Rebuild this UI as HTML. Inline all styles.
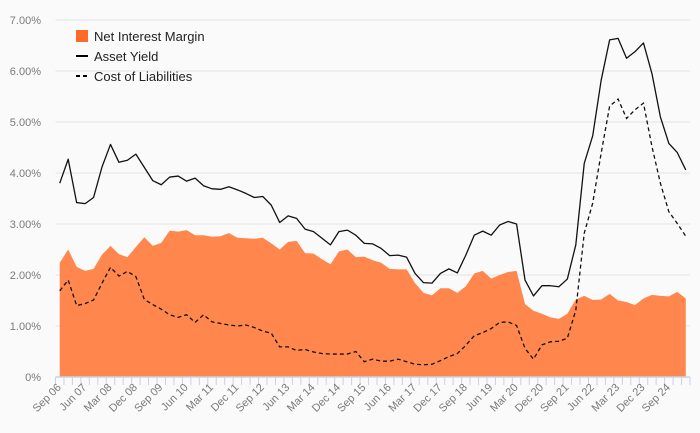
<!DOCTYPE html>
<html><head><meta charset="utf-8">
<style>
html,body{margin:0;padding:0;background:#fafafa;}
svg{display:block;font-family:"Liberation Sans",sans-serif;}
</style></head>
<body>
<svg id="chart" width="700" height="433" viewBox="0 0 700 433" xmlns="http://www.w3.org/2000/svg">
<rect x="0" y="0" width="700" height="433" fill="#fafafa"/>
<g id="grid"></g>
<g id="yaxis"></g>
<g id="series"></g>
<g id="xaxis"></g>
<g font-size="13" fill="#222">
  <g>
    <rect x="76" y="30" width="12" height="12" fill="#ff6a28"/>
    <text x="94" y="41">Net Interest Margin</text>
  </g>
  <g>
    <line x1="76" y1="56" x2="88" y2="56" stroke="#000" stroke-width="2"/>
    <text x="94" y="61">Asset Yield</text>
  </g>
  <g>
    <line x1="76" y1="76" x2="88" y2="76" stroke="#000" stroke-width="2" stroke-dasharray="4,3"/>
    <text x="94" y="81">Cost of Liabilities</text>
  </g>
</g>
</svg>
<script>
const quarterStart = "Sep 06";
const quarterLabels = ["Sep 06","Jun 07","Mar 08","Dec 08","Sep 09","Jun 10","Mar 11","Dec 11","Sep 12","Jun 13","Mar 14","Dec 14","Sep 15","Jun 16","Mar 17","Dec 17","Sep 18","Jun 19","Mar 20","Dec 20","Sep 21","Jun 22","Mar 23","Dec 23","Sep 24"];
const yTicks = [0,1,2,3,4,5,6,7];
const yTickLabels = ["0%","1.00%","2.00%","3.00%","4.00%","5.00%","6.00%","7.00%"];
const netInterestMargin = [2.24,2.50,2.16,2.08,2.12,2.40,2.57,2.41,2.35,2.55,2.74,2.57,2.63,2.87,2.85,2.88,2.78,2.78,2.75,2.76,2.82,2.73,2.72,2.71,2.73,2.62,2.50,2.65,2.67,2.43,2.42,2.31,2.21,2.46,2.50,2.35,2.36,2.29,2.24,2.12,2.11,2.11,1.84,1.65,1.60,1.74,1.74,1.65,1.78,2.03,2.08,1.93,2.00,2.06,2.08,1.43,1.30,1.24,1.17,1.14,1.24,1.52,1.59,1.51,1.52,1.63,1.50,1.47,1.41,1.54,1.61,1.59,1.58,1.67,1.54];
const assetYield = [3.80,4.27,3.42,3.40,3.52,4.12,4.56,4.21,4.25,4.37,4.11,3.85,3.77,3.92,3.94,3.84,3.90,3.75,3.69,3.68,3.73,3.67,3.60,3.52,3.54,3.37,3.03,3.16,3.11,2.90,2.85,2.72,2.59,2.85,2.88,2.78,2.62,2.61,2.52,2.38,2.39,2.35,2.03,1.85,1.84,2.03,2.12,2.04,2.39,2.78,2.86,2.78,2.98,3.05,3.00,1.90,1.59,1.79,1.79,1.77,1.92,2.59,4.19,4.73,5.82,6.61,6.64,6.25,6.38,6.55,5.95,5.10,4.58,4.40,4.06];
const costOfLiabilities = [1.69,1.90,1.40,1.44,1.51,1.84,2.15,1.98,2.07,1.97,1.52,1.42,1.33,1.22,1.17,1.22,1.07,1.22,1.08,1.05,1.02,1.00,1.02,0.97,0.90,0.86,0.59,0.59,0.52,0.54,0.49,0.46,0.45,0.45,0.45,0.50,0.30,0.35,0.31,0.31,0.35,0.30,0.25,0.24,0.25,0.32,0.40,0.46,0.62,0.81,0.87,0.95,1.07,1.08,1.01,0.56,0.35,0.63,0.69,0.70,0.76,1.31,2.82,3.41,4.39,5.31,5.45,5.07,5.24,5.37,4.52,3.80,3.24,3.01,2.76];

const NS="http://www.w3.org/2000/svg";
const X0=55.5, X1=690, Y0=377, Y1=20, YMAX=7;
const n=netInterestMargin.length;
const band=(X1-X0)/n;
function xScale(i){return X0+band*(i+0.5);}
function yScale(v){return Y0-(v/YMAX)*(Y0-Y1);}
function mk(tag,attrs,parent){const e=document.createElementNS(NS,tag);for(const k in attrs)e.setAttribute(k,attrs[k]);parent.appendChild(e);return e;}

const grid=document.getElementById('grid'), yaxis=document.getElementById('yaxis');
yTicks.forEach((t,i)=>{
  if(t>0){const l=mk('line',{x1:X0,x2:X1,y1:yScale(t),y2:yScale(t),stroke:'#e3e3e3','stroke-width':1},grid);
  
  }
  const tx=mk('text',{x:41,y:yScale(t)+4,'text-anchor':'end','font-size':11,fill:'#7a7a7a'},yaxis);
  tx.textContent=yTickLabels[i];
  
  
});

const series=document.getElementById('series');
let d='M'+xScale(0)+','+Y0;
netInterestMargin.forEach((v,i)=>{d+=' L'+xScale(i).toFixed(2)+','+yScale(v).toFixed(2);});
d+=' L'+xScale(n-1)+','+Y0+' Z';
const area=mk('path',{d:d,fill:'#ff874d'},series);



function linePath(arr){return arr.map((v,i)=>(i?'L':'M')+xScale(i).toFixed(2)+','+yScale(v).toFixed(2)).join(' ');}
const ay=mk('path',{d:linePath(assetYield),fill:'none',stroke:'#111','stroke-width':1.3,'stroke-linejoin':'round'},series);


const cl=mk('path',{d:linePath(costOfLiabilities),fill:'none',stroke:'#111','stroke-width':1.3,'stroke-dasharray':'4,3'},series);



const xaxis=document.getElementById('xaxis');
const al=mk('line',{x1:X0,x2:X1,y1:Y0,y2:Y0,stroke:'#c5d3ea','stroke-width':1.5},xaxis);


for(let k=0;k<=n;k++){
  const x=X0+band*k;
  const tk=mk('line',{x1:x,x2:x,y1:Y0,y2:Y0+8,stroke:'#c5d3ea','stroke-width':1},xaxis);
  
  
}
quarterLabels.forEach((lab,j)=>{
  const x=xScale(j*3)+2, y=Y0+11;
  const t=mk('text',{x:x,y:y,'text-anchor':'end','font-size':11,fill:'#7a7a7a',transform:'rotate(-45 '+x+' '+y+')'},xaxis);
  t.textContent=lab;
  
  
});
</script>
</body></html>
